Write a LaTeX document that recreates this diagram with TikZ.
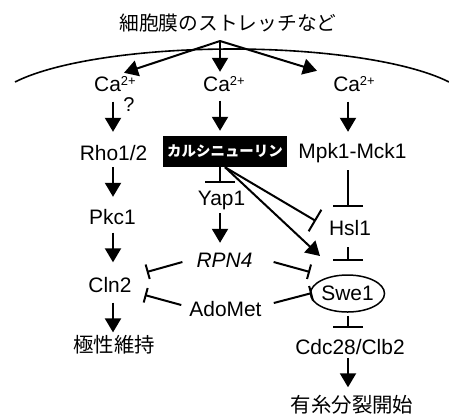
\documentclass[tikz,border=0pt]{standalone}
\usepackage{fontspec}
\setmainfont{Liberation Sans}
\newfontfamily\jp{Noto Sans CJK JP}
\usetikzlibrary{arrows.meta,calc,shapes.geometric}
\begin{document}
\begin{tikzpicture}[x=1bp,y=-1bp,
  lab/.style={font=\fontsize{21}{24}\selectfont, inner sep=0pt, text height=15bp, text depth=0pt},
  jplab/.style={font=\jp\fontsize{20.5}{24}\selectfont, inner sep=0pt},
  ln/.style={line width=2bp},
  arr/.style={ln, -{Triangle[length=14bp,width=16bp]}},
  inh/.style={ln, -{Bar[width=30bp]}},
  inhm/.style={ln, -{Bar[width=25bp]}},
  inhs/.style={ln, -{Bar[width=15bp]}},
]
\useasboundingbox (0,0) rectangle (449,414);
\newcommand{\catwo}{Ca{\fontsize{13}{14}\selectfont\raisebox{6bp}{2+}}}
% membrane
\draw[line width=1.6bp] plot[domain=154.7:25.3, samples=80] ({232+240*cos(\x)}, {106.6-57.6*sin(\x)});
% columns
\coordinate (colL) at (113,0);
\coordinate (colM) at (220,0);
\coordinate (colR) at (348,0);
% nodes
\node[jplab, font=\jp\fontsize{19.8}{22}\selectfont] (title) at (228,23) {細胞膜のストレッチなど};
\coordinate (src) at (220,41);
\node[lab] (ca1) at (115,84) {\catwo};
\node[lab] (ca2) at (224,84) {\catwo};
\node[lab] (ca3) at (354,84) {\catwo};
\node[inner sep=0, font=\fontsize{20}{22}\selectfont] (q) at (129,105) {?};
\node[lab] (rho) at (113.5,152.5) {Rho1/2};
\node[lab] (pkc) at (112.5,217) {Pkc1};
\node[lab] (cln) at (110,285) {Cln2};
\node[jplab] (pol) at (114,345) {極性維持};
\node[fill=black, text=white, font=\jp\bfseries\fontsize{14.5}{16}\selectfont, minimum width=124bp, minimum height=31bp, inner sep=0] (cn) at (225,151.5) {カルシニューリン};
\node[lab] (yap) at (221.5,197.5) {Yap1};
\node[lab, font=\fontsize{21}{24}\selectfont\itshape] (rpn) at (224.5,260) {RPN4};
\node[lab] (ado) at (225.5,308.5) {AdoMet};
\node[lab] (mpk) at (352.5,150.5) {Mpk1-Mck1};
\node[lab] (hsl) at (350,227.5) {Hsl1};
\node[ellipse, draw, line width=1.5bp, minimum width=61bp, minimum height=37bp, inner sep=0, font=\fontsize{21}{24}\selectfont] (swe) at (347.5,293.5) {Swe1};
\node[lab] (cdc) at (350,346.5) {Cdc28/Clb2};
\node[jplab] (mit) at (352,405) {有糸分裂開始};
% stretch arrows
\draw[arr] (src) -- ($(ca1.north)+(9,-3.5)$);
\draw[arr] (src) -- ($(ca2.north)+(-4,-4.5)$);
\draw[arr] (src) -- ($(ca3.north)+(-37,-5.5)$);
% left column
\draw[arr] ($(ca1.south -| colL)+(0,10)$) -- ($(rho.north -| colL)+(0,-13)$);
\draw[arr] ($(rho.south -| colL)+(0,7)$) -- ($(pkc.north -| colL)+(0,-12.5)$);
\draw[arr] ($(pkc.south -| colL)+(0,8)$) -- ($(cln.north -| colL)+(0,-15)$);
\draw[arr] ($(cln.south -| colL)+(0,10)$) -- ($(pol.north -| colL)+(0,-3)$);
% middle column
\draw[arr] ($(ca2.south -| colM)+(0,9)$) -- ($(cn.north -| colM)+(0,-5)$);
\draw[inh] (cn.south -| colM) -- ($(yap.north -| colM)+(0,-7)$);
\draw[arr] ($(yap.south -| colM)+(0,8)$) -- ($(rpn.north -| colM)+(0,-9.5)$);
% right column
\draw[arr] ($(ca3.south -| colR)+(0,10)$) -- ($(mpk.north -| colR)+(0,-11)$);
\draw[inh] ($(mpk.south -| colR)+(0,12)$) -- ($(hsl.north -| colR)+(0,-13)$);
\draw[inh] ($(hsl.south -| colR)+(0,12)$) -- ($(swe.north -| colR)+(0,-13)$);
\draw[inh] ($(swe.south -| colR)+(0,3)$) -- ($(cdc.north -| colR)+(0,-11)$);
\draw[arr] ($(cdc.south -| colR)+(0,4)$) -- ($(mit.north -| colR)+(0,-8)$);
% calcineurin diagonals
\draw[inhm] (cn.south) -- ($(hsl.west)+(-13,-6.5)$);
\draw[arr] (cn.south) -- ($(swe)+(-27.5,-37.5)$);
% RPN4 / AdoMet inhibitions
\draw[inhs] ($(rpn.west)+(-14,2)$) -- ($(cln.east)+(15,-13)$);
\draw[inhs] ($(rpn.east)+(21,2)$) -- ($(swe)+(-37.5,-21.5)$);
\draw[inhs] ($(ado.west)+(-8,-3.5)$) -- ($(cln.east)+(13,10)$);
\draw[inhs] ($(ado.east)+(12,-5.5)$) -- ($(swe)+(-35.5,-0.5)$);
\end{tikzpicture}
\end{document}
